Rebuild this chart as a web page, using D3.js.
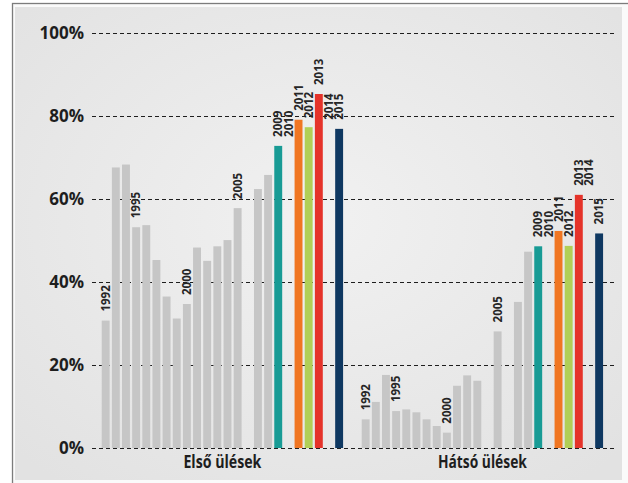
<!DOCTYPE html>
<html>
<head>
<meta charset="utf-8">
<script src="https://cdn.jsdelivr.net/npm/d3@7"></script>
<style>
  html, body { margin: 0; padding: 0; background: #ffffff; }
  svg { display: block; }
</style>
</head>
<body>
<svg id="chart" width="628" height="483"></svg>
<script>
// Seat positions (groups) and survey years
const groups = ["Első ülések", "Hátsó ülések"];
const years = [1992, 1993, 1994, 1995, 1996, 1997, 1998, 1999, 2000, 2001, 2002, 2003,
               2004, 2005, 2006, 2007, 2008, 2009, 2010, 2011, 2012, 2013, 2014, 2015];

// Belt-wearing rates in percent (null = no survey that year)
const frontValues = [30.7, 67.6, 68.3, 53.2, 53.7, 45.3, 36.5, 31.2, 34.7, 48.3, 45.1, 48.6,
                     50.1, 57.8, null, 62.4, 65.8, 72.8, null, 79.1, 77.3, 85.3, null, 76.9];
const rearValues  = [6.9, 11.1, 17.6, 8.9, 9.3, 8.6, 6.9, 5.3, 3.7, 15.0, 17.5, 16.2,
                     null, 28.1, null, 35.2, 47.3, 48.6, null, 52.3, 48.7, 61.0, null, 51.7];

// Years drawn in their own colour
const highlightYears  = [2009, 2011, 2012, 2013, 2015];
const highlightColors = ["#189b95", "#f07622", "#b1cf56", "#e5332a", "#0f3861"];
const baseColor = "#c6c6c6";

// Years carrying a label; a label for a year without a bar sits at a neighbour's height
const labelYears = [1992, 1995, 2000, 2005, 2009, 2010, 2011, 2012, 2013, 2014, 2015];
const frontLabelShare = [[2010, 2009], [2014, 2015]];
const rearLabelShare  = [[2010, 2009], [2014, 2013]];

const tickValues = [0, 20, 40, 60, 80, 100];

const svg = d3.select("#chart");

// Frame and shaded panel
const defs = svg.append("defs");
const grad = defs.append("radialGradient").attr("id", "panelGrad")
  .attr("cx", "50%").attr("cy", "45%").attr("r", "70%");
grad.append("stop").attr("offset", "0%").attr("stop-color", "#f1f1f1");
grad.append("stop").attr("offset", "100%").attr("stop-color", "#e2e2e2");

svg.append("rect").attr("x", 12.5).attr("y", 3.5).attr("width", 630).attr("height", 500)
  .attr("fill", "#fafafa").attr("stroke", "#7c7c7c").attr("stroke-width", 1.3);
svg.append("rect").attr("x", 15).attr("y", 7).attr("width", 607).attr("height", 473)
  .attr("fill", "url(#panelGrad)");

// Scales
const y = d3.scaleLinear().domain([0, 100]).range([448, 33]);
const xGroup = d3.scaleBand().domain(groups).range([100.6, 604.2]).paddingInner(0.063);
const xYear = d3.scaleBand().domain(years).range([0, xGroup.bandwidth()])
  .paddingInner(0.22).paddingOuter(0.11);

const colorOf = yr => {
  const i = highlightYears.indexOf(yr);
  return i >= 0 ? highlightColors[i] : baseColor;
};

// Gridlines and percentage labels
const axis = d3.axisLeft(y).tickValues(tickValues).tickFormat(d => d + "%")
  .tickSize(-(615 - 92)).tickPadding(8);
const gAxis = svg.append("g").attr("transform", "translate(92,0)").call(axis);
gAxis.select(".domain").remove();
gAxis.selectAll(".tick line")
  .attr("stroke", "#1e1e1e").attr("stroke-width", 1).attr("stroke-dasharray", "4,3");
gAxis.selectAll(".tick text")
  .attr("fill", "#1e1e1e")
  .style("font-family", "'Open Sans', 'DejaVu Sans', sans-serif")
  .style("font-weight", 700).style("font-size", "17px");

// Bars and year labels per group
const series = [
  { name: groups[0], values: frontValues, share: frontLabelShare },
  { name: groups[1], values: rearValues,  share: rearLabelShare }
];

series.forEach(s => {
  const g = svg.append("g").attr("transform", `translate(${xGroup(s.name)},0)`);
  const rows = years.map((yr, i) => ({ year: yr, value: s.values[i] }));
  const valueOf = yr => s.values[years.indexOf(yr)];

  g.selectAll("rect.bar").data(rows.filter(d => d.value != null)).join("rect")
    .attr("class", "bar")
    .attr("x", d => xYear(d.year))
    .attr("width", xYear.bandwidth())
    .attr("y", d => y(d.value))
    .attr("height", d => y(0) - y(d.value))
    .attr("fill", d => colorOf(d.year));

  const labels = labelYears.map(yr => {
    let v = valueOf(yr);
    if (v == null) {
      const pair = s.share.find(p => p[0] === yr);
      v = pair ? valueOf(pair[1]) : 0;
    }
    return { year: yr, value: v };
  });

  g.selectAll("text.year").data(labels).join("text")
    .attr("class", "year")
    .attr("transform", d =>
      `translate(${xYear(d.year) + xYear.bandwidth() / 2},${y(d.value) - 9}) rotate(-90)`)
    .attr("dy", "0.37em")
    .attr("fill", "#262626")
    .style("font-family", "'Open Sans', 'DejaVu Sans', sans-serif")
    .style("font-weight", 700).style("font-size", "11.5px")
    .text(d => d.year);

  // Group caption
  const cap = svg.append("text")
    .attr("x", xGroup(s.name) + xGroup.bandwidth() / 2)
    .attr("y", 468)
    .attr("text-anchor", "middle")
    .attr("fill", "#1e1e1e")
    .style("font-family", "'Open Sans', 'DejaVu Sans', sans-serif")
    .style("font-weight", 700).style("font-size", "17px")
    .text(s.name);
  const nat = cap.node().getComputedTextLength();
  const target = s.name === groups[0] ? 78 : 89;
  if (nat > target) cap.attr("textLength", target).attr("lengthAdjust", "spacingAndGlyphs");
});
</script>
</body>
</html>
